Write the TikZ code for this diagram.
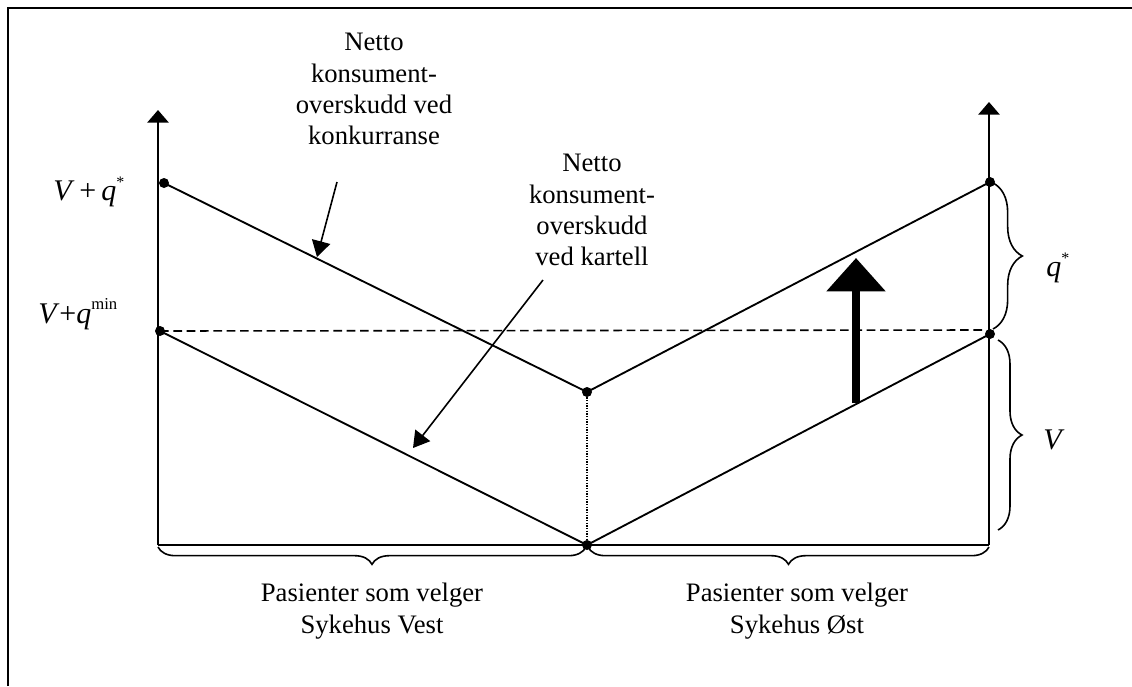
\documentclass[tikz,border=0pt]{standalone}
\usepackage{fontspec}
\setmainfont{Liberation Serif}
\usetikzlibrary{arrows.meta,decorations.pathreplacing}
\begin{document}
\begin{tikzpicture}[x=0.75pt,y=-0.75pt,
  curve/.style={line width=1.4pt},
  axis/.style={line width=1.4pt,-{Triangle[length=9.5pt,width=16pt]}},
  ptr/.style={line width=1.2pt,-{Triangle[length=12pt,width=14pt]}},
  dot/.style={circle,fill=black,inner sep=0pt,minimum size=7.5pt},
  lbl/.style={font=\fontsize{20}{23.5}\selectfont,align=center,inner sep=0pt,anchor=north},
  mth/.style={font=\fontsize{22.5}{27}\selectfont,inner sep=0pt,anchor=base west},
  brc/.style={line width=1.2pt,decorate,decoration={brace,amplitude=#1}},
  dashline/.style={line width=1.2pt,dash pattern=on 6.5pt off 3.5pt},
  dotline/.style={line width=0.9pt,dash pattern=on 1pt off 1pt},
  bigarrow/.style={line width=6pt,-{Triangle[length=25pt,width=43pt]}},
]
\useasboundingbox (0,0) rectangle (1132,686);
\draw[line width=1.5pt] (8,686) -- (8,8) -- (1132,8);

% axes
\coordinate (LB) at (158,545);
\coordinate (LT) at (158,110);
\coordinate (RB) at (989,545);
\coordinate (RT) at (989,102);
\draw[axis] (LB) -- (LT);
\draw[axis] (RB) -- (RT);
\draw[curve] (LB) -- (RB);

% points
\node[dot] (A) at (164,183) {};
\node[dot] (B) at (160,331) {};
\node[dot] (M) at (587,392) {};
\node[dot] (O) at (587,545) {};
\node[dot] (C) at (990,182) {};
\node[dot] (D) at (990,334) {};

\draw[curve] (A.center) -- (M.center) -- (C.center);
\draw[curve] (B.center) -- (O.center) -- (D.center);
\coordinate (DE) at (986,330);
\draw[dashline] (B.center) -- (DE);
\draw[dotline] (M.center) -- (O.center);

% big arrow
\coordinate (BA1) at (856,403);
\coordinate (BA2) at (856,258);
\draw[bigarrow] (BA1) -- (BA2);

% labels
\node[lbl] (L1) at (374,33) {Netto\\konsument-\\overskudd ved\\konkurranse};
\node[lbl] (L2) at (592,154) {Netto\\konsument-\\overskudd\\ved kartell};
\coordinate (P1s) at (337,182);
\coordinate (P1e) at (317,257);
\coordinate (P2s) at (543,280);
\coordinate (P2e) at (413,448);
\draw[ptr] (P1s) -- (P1e);
\draw[ptr] (P2s) -- (P2e);

\node[mth] (VQ) at (53,200) {\textit{V}\,+\,\textit{q}\raisebox{9.5pt}{\fontsize{12}{12}\selectfont *}};
\node[mth] (VQm) at (38,323) {\textit{V}+\textit{q}\raisebox{10pt}{\fontsize{12.5}{12}\selectfont min}};
\node[mth] (Q) at (1046,276) {\textit{q}\raisebox{9.5pt}{\fontsize{12}{12}\selectfont *}};
\node[mth] (V) at (1043,449) {\textit{V}};

% braces
\draw[brc=13pt,decoration={mirror}] (158,547) -- (586,547);
\draw[brc=13pt,decoration={mirror}] (588,547) -- (989,547);
\draw[brc=22pt] (993,183) -- (993,329);
\draw[brc=18pt] (998,340) -- (998,530);

\node[lbl] (W) at (372,583) {Pasienter som velger\\Sykehus Vest};
\node[lbl] (E) at (797,583) {Pasienter som velger\\Sykehus Øst};
\end{tikzpicture}
\end{document}
